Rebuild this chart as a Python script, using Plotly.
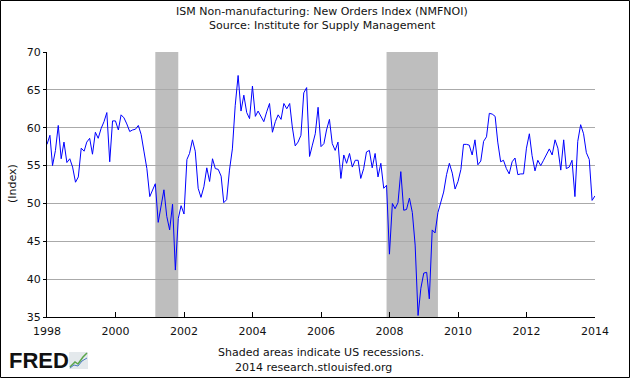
import plotly.graph_objects as go
import pandas as pd

# Monthly values (ISM Non-manufacturing New Orders Index)
v1998 = [57.8, 59.0, 55.0, 57.0, 60.3, 55.9, 58.1, 55.4, 55.9, 54.8, 52.8, 53.5]
v1999 = [57.3, 56.9, 58.1, 58.6, 56.5, 59.4, 58.6, 59.9, 60.8, 62.0, 55.5, 60.9]
v2000 = [60.9, 59.7, 61.7, 61.3, 60.5, 59.5, 59.7, 59.8, 60.3, 59.1, 56.8, 54.6]
v2001 = [50.9, 51.8, 52.6, 47.5, 49.5, 51.8, 48.3, 46.5, 49.9, 41.2, 48.0, 49.7]
v2002 = [48.6, 55.8, 56.6, 58.4, 56.9, 52.0, 50.8, 52.2, 54.7, 52.9, 55.9, 54.6]
v2003 = [54.5, 53.6, 50.1, 50.5, 54.4, 57.2, 62.9, 66.9, 62.2, 64.3, 62.0, 61.2]
v2004 = [65.5, 61.5, 62.2, 61.4, 60.8, 62.1, 63.2, 59.4, 60.8, 61.7, 61.1, 63.2]
v2005 = [62.5, 63.2, 60.1, 57.6, 58.1, 59.0, 64.6, 65.3, 56.2, 57.7, 59.2, 62.7]
v2006 = [57.5, 57.9, 59.7, 61.1, 57.9, 57.0, 58.1, 53.3, 56.4, 55.3, 56.6, 54.8]
v2007 = [55.7, 55.7, 53.3, 54.6, 56.8, 57.0, 54.7, 56.6, 53.5, 55.3, 52.0, 52.4]
v2008 = [43.3, 50.0, 49.3, 50.1, 54.2, 49.1, 49.2, 50.7, 48.8, 44.5, 35.2, 38.8]
v2009 = [40.8, 40.9, 37.4, 46.5, 46.1, 48.8, 50.0, 51.5, 53.8, 55.3, 54.0, 51.9]
v2010 = [52.9, 54.5, 57.8, 57.8, 57.7, 56.4, 58.4, 55.1, 55.6, 58.2, 58.8, 61.9]
v2011 = [61.8, 61.5, 58.1, 55.5, 55.7, 54.6, 53.9, 55.5, 56.0, 53.8, 53.9, 53.9]
v2012 = [57.3, 59.2, 56.3, 54.3, 55.7, 55.0, 55.7, 56.5, 57.2, 56.4, 58.4, 57.3]
v2013 = [54.4, 58.4, 54.6, 54.8, 55.7, 50.9, 58.2, 60.4, 59.2, 56.7, 55.8, 50.4]
v2014 = [51.0]

recession_start = ["2001-03-01", "2007-12-01"]
recession_end = ["2001-11-01", "2009-06-01"]

y_ticks = [35, 40, 45, 50, 55, 60, 65, 70]

values = (v1998 + v1999 + v2000 + v2001 + v2002 + v2003 + v2004 + v2005 +
          v2006 + v2007 + v2008 + v2009 + v2010 + v2011 + v2012 + v2013 + v2014)
dates = pd.date_range("1998-01-01", periods=len(values), freq="MS")

W_IMG, H_IMG = 630, 378
L, T, PW, PH = 47, 52, 548, 265


def px(x):
    return (x - L) / PW


def py(y):
    return (T + PH - y) / PH


FONT = "DejaVu Sans"

fig = go.Figure()
fig.add_trace(go.Scatter(x=dates, y=values, mode="lines",
                         line=dict(color="#0000ff", width=1),
                         hoverinfo="x+y", showlegend=False))

shapes = []
for s, e in zip(recession_start, recession_end):
    shapes.append(dict(type="rect", xref="x", yref="paper", x0=s, x1=e, y0=0, y1=1,
                       fillcolor="#bebebe", line=dict(width=0), layer="between"))

# outer border
shapes.append(dict(type="rect", xref="paper", yref="paper",
                   x0=px(0.5), x1=px(629.5), y0=py(377.5), y1=py(0.5),
                   line=dict(color="black", width=1), fillcolor="rgba(0,0,0,0)"))

# small FRED chart icon
shapes.append(dict(type="rect", xref="paper", yref="paper",
                   x0=px(69), x1=px(88), y0=py(369), y1=py(352),
                   line=dict(width=0), fillcolor="#e4e9ec"))
shapes.append(dict(type="path", xref="paper", yref="paper",
                   path="M {},{} L {},{} L {},{} L {},{} L {},{}".format(
                       px(70), py(367), px(75), py(362), px(78), py(364),
                       px(83), py(357), px(87), py(353)),
                   line=dict(color="#5aa64a", width=1.5)))
shapes.append(dict(type="path", xref="paper", yref="paper",
                   path="M {},{} L {},{} L {},{} L {},{} L {},{}".format(
                       px(70), py(368), px(74), py(365), px(78), py(366),
                       px(82), py(361), px(87), py(358)),
                   line=dict(color="#4a7ac0", width=1)))

annotations = [
    dict(text="ISM Non-manufacturing: New Orders Index (NMFNOI)", x=px(322), y=py(11)),
    dict(text="Source: Institute for Supply Management", x=px(322), y=py(25)),
    dict(text="(Index)", x=px(12), y=py(184), textangle=-90),
    dict(text="Shaded areas indicate US recessions.", x=px(321), y=py(352)),
    dict(text="2014 research.stlouisfed.org", x=px(313), y=py(367)),
]
annos = []
for a in annotations:
    a.update(xref="paper", yref="paper", showarrow=False, xanchor="center",
             yanchor="middle", font=dict(family=FONT, size=11, color="#111111"))
    annos.append(a)
annos.append(dict(text="<b>FRED</b>", xref="paper", yref="paper", x=px(7), y=py(360),
                  xanchor="left", yanchor="middle", showarrow=False,
                  font=dict(family="Liberation Sans", size=22, color="#111111")))

fig.update_layout(
    width=W_IMG, height=H_IMG,
    margin=dict(l=L, r=W_IMG - L - PW, t=T, b=H_IMG - T - PH, pad=0),
    paper_bgcolor="white", plot_bgcolor="white",
    shapes=shapes, annotations=annos,
    xaxis=dict(type="date", range=["1998-01-01", "2014-01-01"],
               tick0="1998-01-01", dtick="M24", tickformat="%Y",
               ticks="inside", ticklen=5, tickcolor="black",
               ticklabelstandoff=4,
               showline=True, linecolor="black", linewidth=1,
               showgrid=False, zeroline=False,
               tickfont=dict(family=FONT, size=11, color="#111111")),
    yaxis=dict(range=[35, 70], tickvals=y_ticks,
               ticks="outside", ticklen=3, tickcolor="black",
               showline=True, linecolor="black", linewidth=1,
               showgrid=True, gridcolor="#aaaaaa", gridwidth=1,
               zeroline=False,
               tickfont=dict(family=FONT, size=11, color="#111111")),
    font=dict(family=FONT),
)

fig.write_html("out.html",
               config={"displayModeBar": False},
               post_script="document.body.style.margin='0';"
                           "document.body.style.overflow='hidden';")
